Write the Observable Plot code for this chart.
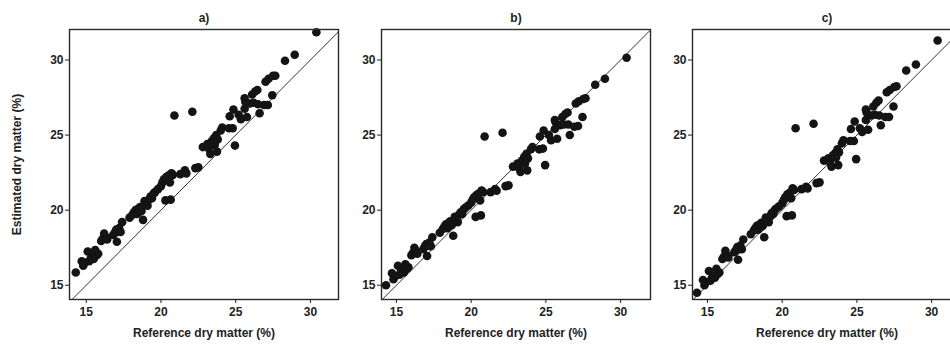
<!DOCTYPE html>
<html>
<head>
<meta charset="utf-8">
<script src="https://cdn.jsdelivr.net/npm/d3@7"></script>
<script src="https://cdn.jsdelivr.net/npm/@observablehq/plot@0.6"></script>
<style>
  html, body { margin: 0; padding: 0; background: #fff; overflow: hidden; }
  #wrap { position: relative; width: 950px; height: 346px; overflow: hidden; }
  .panel { position: absolute; top: 0; width: 340px; height: 346px; }
  .panel svg { max-width: none !important; }
</style>
</head>
<body>
<div id="wrap"></div>
<script>
// Reference dry matter (%) — shared by all three panels
const ref = [
  14.3,14.7,14.8,14.9,15.1,15.2,15.3,15.4,15.5,15.6,15.7,15.8,
  16.0,16.1,16.2,16.3,16.4,16.8,16.9,17.0,17.05,17.1,17.2,17.4,17.3,
  17.9,18.1,18.2,18.3,18.4,18.5,18.55,18.6,18.7,18.8,18.9,19.0,19.1,19.2,19.3,19.4,19.5,19.6,19.8,
  20.0,20.1,20.2,20.3,20.35,20.5,20.6,20.65,20.7,20.8,20.9,
  21.3,21.6,21.7,22.1,22.3,22.5,
  22.8,23.1,23.2,23.3,23.4,23.55,23.6,23.7,23.75,23.8,
  24.0,24.1,24.6,24.55,24.8,24.85,24.95,
  25.2,25.35,25.6,25.65,25.6,25.75,25.95,
  26.1,26.3,26.45,26.2,26.5,26.6,26.9,27.15,
  27.0,27.2,27.45,27.5,27.65,
  28.3,28.95,30.4
];
// Estimated dry matter (%) — panel a)
const estA = [
  15.85,16.6,16.3,16.5,17.25,16.6,16.8,16.9,16.75,17.35,17.0,17.1,
  17.95,18.1,18.45,18.2,18.05,18.35,18.5,18.7,17.9,18.55,18.8,19.2,18.55,
  19.5,19.7,19.85,20.0,19.75,20.1,19.9,20.2,19.95,19.35,20.6,20.45,20.3,20.7,20.9,20.8,21.1,21.2,21.4,
  21.6,21.85,22.05,20.65,22.2,22.3,21.85,20.7,22.45,22.35,26.3,
  22.4,22.65,22.45,26.55,22.8,22.85,
  24.2,24.4,24.1,23.75,24.6,24.8,24.35,25.0,23.9,24.7,
  25.3,25.5,26.25,25.45,25.45,26.7,24.3,
  26.35,26.05,27.45,27.2,26.75,26.2,27.1,
  27.7,27.9,28.0,27.15,27.05,26.45,27.0,27.0,
  28.55,28.75,27.65,28.95,28.95,
  29.95,30.35,31.85
];
// Estimated dry matter (%) — panel b)
const estB = [
  15.0,15.8,15.4,15.6,16.3,15.7,15.9,16.0,15.85,16.4,16.1,16.2,
  17.0,17.15,17.5,17.3,17.1,17.4,17.6,17.75,16.95,17.65,17.85,18.2,17.6,
  18.5,18.75,18.9,19.05,18.8,19.15,18.95,19.25,19.0,18.3,19.55,19.45,19.2,19.7,19.85,19.75,20.05,20.15,20.3,
  20.5,20.7,20.85,19.55,21.0,21.1,20.65,19.65,21.3,21.2,24.9,
  21.2,21.4,21.3,25.15,21.6,21.65,
  22.9,23.1,22.8,22.55,23.3,23.55,23.1,23.75,22.65,23.45,
  24.05,24.2,24.9,24.05,24.1,25.3,23.0,
  25.0,24.65,26.0,25.85,25.4,24.75,25.65,
  26.2,26.4,26.5,25.7,25.7,25.0,25.55,25.6,
  27.1,27.25,26.2,27.4,27.45,
  28.35,28.75,30.15
];
// Estimated dry matter (%) — panel c)
const estC = [
  14.5,15.35,15.0,15.2,15.95,15.3,15.5,15.6,15.5,16.1,15.75,15.85,
  16.75,16.9,17.3,17.0,16.85,17.2,17.35,17.55,16.7,17.4,17.65,18.05,17.4,
  18.4,18.65,18.8,18.95,18.7,19.05,18.85,19.15,18.95,18.2,19.5,19.4,19.2,19.6,19.8,19.75,20.0,20.1,20.25,
  20.45,20.65,20.85,19.6,21.05,21.15,20.8,19.65,21.45,21.35,25.45,
  21.4,21.55,21.45,25.75,21.8,21.85,
  23.3,23.45,23.2,22.9,23.65,23.8,23.5,24.05,23.0,23.85,
  24.45,24.65,25.4,24.6,24.6,25.9,23.4,
  25.45,25.2,26.7,26.5,26.0,25.35,26.3,
  26.9,27.15,27.3,26.35,26.3,25.65,26.2,26.2,
  27.85,28.0,26.9,28.2,28.25,
  29.3,29.7,31.3
];
const panelTitles = ["a)", "b)", "c)"];
const tickValues = [15, 20, 25, 30];
const identityLine = [{from: 14, to: 32}];
const xLabel = "Reference dry matter (%)";
const yLabel = "Estimated dry matter (%)";

const panels = [
  {title: panelTitles[0], est: estA, left: 0,   xDomain: [13.88, 31.88]},
  {title: panelTitles[1], est: estB, left: 312, xDomain: [14, 32]},
  {title: panelTitles[2], est: estC, left: 623, xDomain: [14, 32]}
];

const wrap = document.getElementById("wrap");
panels.forEach((p, k) => {
  const rows = ref.map((r, i) => ({ref: r, est: p.est[i]}));
  const marks = [
    Plot.link(identityLine, {x1: "from", y1: "from", x2: "to", y2: "to", stroke: "#333", strokeWidth: 1, clip: true}),
    Plot.dot(rows, {x: "ref", y: "est", r: 4.3, fill: "#141414", stroke: "none"}),
    Plot.frame({stroke: "#2a2a2a", strokeWidth: 1.4}),
    Plot.axisX({ticks: tickValues, tickSize: 4, tickPadding: 4, label: null, fontSize: 12, fontWeight: "bold", fill: "#222"}),
    Plot.axisY({ticks: tickValues, tickSize: 4, tickPadding: 2, label: null, fontSize: 12, fontWeight: "bold", fill: "#222"}),
    Plot.text([p.title], {frameAnchor: "top", lineAnchor: "middle", textAnchor: "middle", dy: -11, fontSize: 12, fontWeight: "bold", fill: "#222"}),
    Plot.text([xLabel], {frameAnchor: "bottom", lineAnchor: "middle", textAnchor: "middle", dy: 34, fontSize: 12, fontWeight: "bold", fill: "#222"})
  ];
  if (k === 0) {
    marks.push(Plot.text([yLabel], {frameAnchor: "left", lineAnchor: "middle", textAnchor: "middle", dx: -52, rotate: -90, fontSize: 12, fontWeight: "bold", fill: "#222"}));
  }
  const chart = Plot.plot({
    width: 340,
    height: 346,
    marginLeft: 69,
    marginRight: 2,
    marginTop: 29,
    marginBottom: 47,
    style: {fontFamily: "'Liberation Sans', Arial, sans-serif", background: "transparent", color: "#222", overflow: "visible", maxWidth: "none"},
    x: {domain: p.xDomain},
    y: {domain: [14.05, 32.03]},
    marks
  });
  const div = document.createElement("div");
  div.className = "panel";
  div.style.left = p.left + "px";
  div.appendChild(chart);
  wrap.appendChild(div);
});
</script>
</body>
</html>
